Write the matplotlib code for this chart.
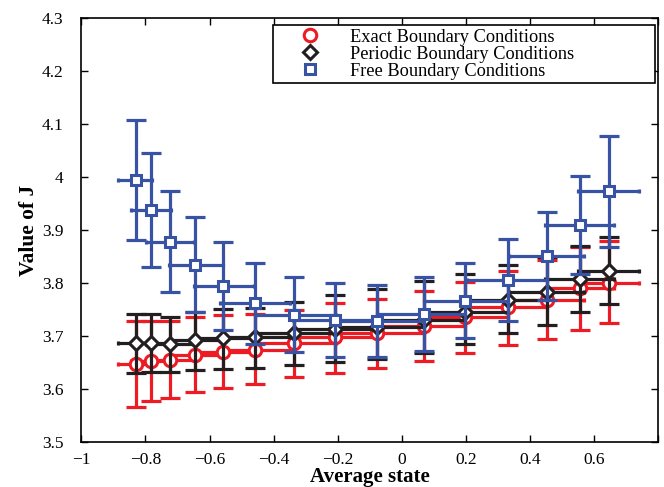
import numpy as np
import matplotlib
matplotlib.use('Agg')
import matplotlib.pyplot as plt

plt.rcParams['font.family'] = ['Liberation Serif', 'DejaVu Serif']

# bin centres and bin edges along "average state"
x = [-0.831, -0.784, -0.722, -0.645, -0.559, -0.457, -0.336, -0.209,
     -0.078, 0.069, 0.196, 0.332, 0.454, 0.556, 0.647]
x_lo = [-0.885, -0.844, -0.797, -0.727, -0.647, -0.567, -0.458, -0.338,
        -0.209, -0.078, 0.069, 0.203, 0.335, 0.447, 0.551]
x_hi = [-0.781, -0.721, -0.647, -0.559, -0.460, -0.349, -0.206, -0.078,
        0.069, 0.196, 0.333, 0.454, 0.570, 0.663, 0.740]

# Exact boundary conditions
exact_y = [3.648, 3.653, 3.655, 3.665, 3.671, 3.675, 3.687, 3.698,
           3.706, 3.720, 3.736, 3.755, 3.768, 3.791, 3.801]
exact_hi = [3.729, 3.729, 3.728, 3.736, 3.740, 3.743, 3.750, 3.762,
            3.770, 3.786, 3.803, 3.824, 3.844, 3.868, 3.880]
exact_lo = [3.567, 3.577, 3.583, 3.594, 3.603, 3.610, 3.623, 3.631,
            3.641, 3.654, 3.668, 3.684, 3.694, 3.712, 3.725]

# Periodic boundary conditions
per_y = [3.687, 3.688, 3.685, 3.693, 3.696, 3.698, 3.706, 3.713,
         3.718, 3.730, 3.745, 3.768, 3.784, 3.808, 3.824]
per_hi = [3.743, 3.743, 3.737, 3.746, 3.751, 3.754, 3.765, 3.778,
          3.789, 3.804, 3.818, 3.835, 3.850, 3.870, 3.887]
per_lo = [3.630, 3.633, 3.632, 3.636, 3.639, 3.641, 3.646, 3.651,
          3.657, 3.669, 3.685, 3.706, 3.721, 3.745, 3.761]

# Free boundary conditions
free_y = [3.994, 3.938, 3.878, 3.835, 3.794, 3.762, 3.740, 3.731,
          3.729, 3.743, 3.767, 3.806, 3.851, 3.910, 3.974]
free_hi = [4.108, 4.046, 3.974, 3.925, 3.877, 3.838, 3.811, 3.800,
           3.797, 3.811, 3.838, 3.884, 3.934, 4.003, 4.078]
free_lo = [3.881, 3.831, 3.783, 3.745, 3.712, 3.685, 3.670, 3.661,
           3.660, 3.673, 3.696, 3.728, 3.768, 3.818, 3.868]

series = [
    ('Exact Boundary Conditions', exact_y, exact_lo, exact_hi, '#ed1c24', 'o', 9),
    ('Periodic Boundary Conditions', per_y, per_lo, per_hi, '#231f20', 'D', 7.5),
    ('Free Boundary Conditions', free_y, free_lo, free_hi, '#3953a4', 's', 7.5),
]

fig = plt.figure(figsize=(6.64, 4.87), dpi=100)
ax = fig.add_axes([0.1226, 0.0918, 0.8684, 0.8706])

xc = np.array(x)
xerr = [xc - np.array(x_lo), np.array(x_hi) - xc]

handles = []
for i, (name, y, lo, hi, col, mk, ms) in enumerate(series):
    y = np.array(y)
    yerr = [y - np.array(lo), np.array(hi) - y]
    z = 2 + i
    ax.errorbar(xc, y, yerr=yerr, fmt='none', ecolor=col, elinewidth=2.3,
                capsize=7.5, capthick=2.3, zorder=z)
    ax.errorbar(xc, y, xerr=xerr, fmt='none', ecolor=col, elinewidth=2.3,
                capsize=1.5, capthick=2.3, zorder=z)
    h, = ax.plot(xc, y, linestyle='none', marker=mk, ms=ms, mfc='white',
                 mec=col, mew=2.2, zorder=z + 0.5, label=name)
    handles.append(h)

ax.set_xlim(-1, 0.8)
ax.set_ylim(3.5, 4.3)
ax.set_xticks(np.arange(-1, 0.81, 0.2))
ax.set_xticklabels(['\u22121', '\u22120.8', '\u22120.6', '\u22120.4', '\u22120.2',
                    '0', '0.2', '0.4', '0.6', ''])
ax.set_yticks(np.arange(3.5, 4.31, 0.1))
ax.set_yticklabels(['3.5', '3.6', '3.7', '3.8', '3.9', '4', '4.1', '4.2', '4.3'])
ax.tick_params(direction='in', top=True, right=True, labelsize=12.5,
               length=5, width=1)
ax.tick_params(axis='x', pad=7)
ax.tick_params(axis='y', pad=13)
for sp in ax.spines.values():
    sp.set_linewidth(1.2)

ax.set_xlabel('Average state', fontsize=15, fontweight='bold', labelpad=-1)
ax.set_ylabel('Value of J', fontsize=15.5, fontweight='bold', labelpad=2)

leg = ax.legend(handles=handles, loc='upper left', fontsize=13.2,
                frameon=True, fancybox=False, edgecolor='black',
                handlelength=3.6, handletextpad=0.4, borderpad=0.2,
                labelspacing=0.0, bbox_to_anchor=(0.332, 0.838, 0.663, 0.146),
                mode='expand', borderaxespad=0)
leg.get_frame().set_linewidth(1.2)
leg.get_frame().set_alpha(1)

fig.savefig('out.png', dpi=100)
